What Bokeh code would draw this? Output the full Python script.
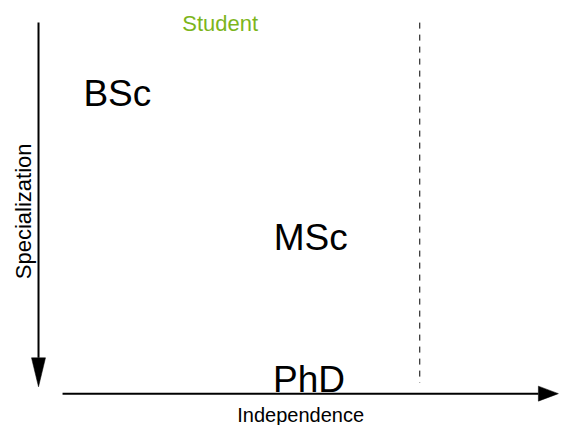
from bokeh.plotting import figure
from bokeh.models import Range1d, ColumnDataSource
from bokeh.core.properties import value
from bokeh.embed import file_html
from bokeh.resources import INLINE
import math

# ---- data (conceptual diagram coordinates, 0..100 on both axes) ----
degrees = ["BSc", "MSc", "PhD"]
independence = [20.9, 55.5, 55.2]
specialization = [21.9, 55.8, 89.2]

group_label = "Student"
group_x = 39.3
group_y = 5.3

x_title = "Independence"
y_title = "Specialization"

boundary_independence = 75.0   # dashed boundary
axis_start = 5.2               # where the specialization axis starts
boundary_end = 90.0
spec_axis_x = 6.8
spec_axis_end = 90.9
indep_axis_y = 92.5
indep_axis_start = 11.1
indep_axis_end = 99.8

W, H = 559, 425
X0, X1 = 0, 100
Y0, Y1 = 100, 0

p = figure(width=W, height=H, output_backend="svg", toolbar_location=None,
           x_range=Range1d(X0, X1), y_range=Range1d(Y0, Y1),
           x_axis_type=None, y_axis_type=None, min_border=0)
p.grid.visible = False
p.outline_line_color = None
p.background_fill_color = "white"
p.border_fill_color = "white"

px_x = W / abs(X1 - X0)
px_y = H / abs(Y1 - Y0)
FONT = value("Liberation Sans")

# specialization axis (pointing down)
vh_len, vh_w = 29 / px_y, 7 / px_x
p.segment(x0=[spec_axis_x], y0=[axis_start], x1=[spec_axis_x], y1=[spec_axis_end - vh_len],
          line_color="black", line_width=2)
p.patch(x=[spec_axis_x - vh_w, spec_axis_x + vh_w, spec_axis_x],
        y=[spec_axis_end - vh_len, spec_axis_end - vh_len, spec_axis_end],
        fill_color="black", line_color="black", line_width=0.5)

# independence axis (pointing right)
hh_len, hh_w = 20 / px_x, 7.5 / px_y
p.segment(x0=[indep_axis_start], y0=[indep_axis_y], x1=[indep_axis_end - hh_len], y1=[indep_axis_y],
          line_color="black", line_width=2)
p.patch(x=[indep_axis_end - hh_len, indep_axis_end - hh_len, indep_axis_end],
        y=[indep_axis_y - hh_w, indep_axis_y + hh_w, indep_axis_y],
        fill_color="black", line_color="black", line_width=0.5)

# dashed boundary
p.segment(x0=[boundary_independence], y0=[axis_start], x1=[boundary_independence], y1=[boundary_end],
          line_color="black", line_width=1, line_dash="6 6")

# degree labels
src = ColumnDataSource(dict(x=independence, y=specialization, t=degrees))
p.text(x="x", y="y", text="t", source=src, text_font=FONT, text_font_size="37px",
       text_align="center", text_baseline="alphabetic", text_color="black")

# group label
p.text(x=[group_x], y=[group_y], text=[group_label], text_font=FONT, text_font_size="22px",
       text_align="center", text_baseline="alphabetic", text_color="#7cb51b")

# axis titles
p.text(x=[53.7], y=[97.6], text=[x_title], text_font=FONT, text_font_size="20px",
       text_align="center", text_baseline="alphabetic", text_color="black")
p.text(x=[4.1], y=[49.6], text=[y_title], text_font=FONT, text_font_size="22px",
       text_align="center", text_baseline="alphabetic", text_color="black", angle=math.pi / 2)

open("out.html", "w").write(file_html(p, INLINE))
